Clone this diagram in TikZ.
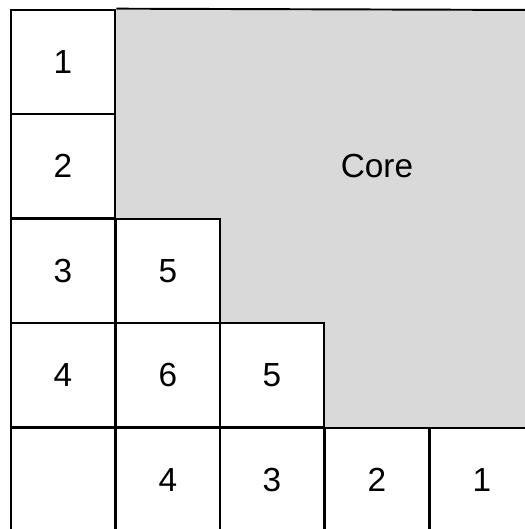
\documentclass[tikz,border=0pt]{standalone}
\usepackage{xcolor}
\usepackage{fontspec}
\setmainfont{Liberation Sans}
\usepackage{tikz}

\definecolor{coregray}{HTML}{D9D9D9}

\begin{document}
\begin{tikzpicture}[x=0.02cm,y=-0.02cm,
        cell/.style={draw, line width=1.1pt, minimum size=2.095cm, inner sep=0pt,
            font=\fontsize{19}{22}\selectfont}]
        \useasboundingbox (0,0) rectangle (525,529);
        \clip (0,0) rectangle (525,529);

        % core area
        \fill[coregray] (115,10) -- (545,10) -- (545,428) -- (325,428) -- (325,323)
            -- (220,323) -- (220,218) -- (115,218) -- cycle;
        \node[font=\fontsize{19}{22}\selectfont] (core) at (377,166) {Core};

        % left column
        \node[cell] (a1) at (63,62) {1};
        \node[cell] (a2) at (63,166) {2};
        \node[cell] (a3) at (63,271) {3};
        \node[cell] (a4) at (63,375) {4};
        \node[cell] (a5) at (63,480) {};

        % staircase
        \node[cell] (b3) at (168,271) {5};
        \node[cell] (b4) at (168,375) {6};
        \node[cell] (b5) at (168,480) {4};
        \node[cell] (c4) at (272,375) {5};
        \node[cell] (c5) at (272,480) {3};
        \node[cell] (d5) at (377,480) {2};
        \node[cell] (e5) at (482,480) {1};

        % core border
        \draw[line width=1.1pt] (a1.north east) -- (545,10);
\end{tikzpicture}
\end{document}
